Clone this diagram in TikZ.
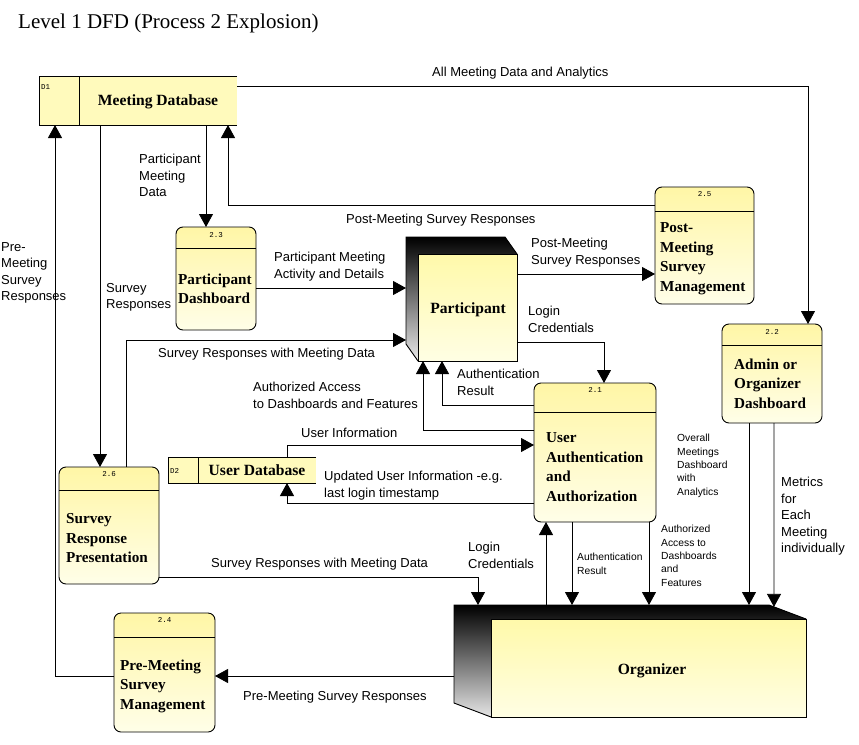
\documentclass[tikz,border=0pt]{standalone}
\usepackage{fontspec}
\setmainfont{Liberation Serif}
\setsansfont{Liberation Sans}
\setmonofont{Liberation Mono}
\usetikzlibrary{arrows.meta,calc}
\definecolor{ytop}{RGB}{255,246,166}
\definecolor{ybot}{RGB}{255,254,232}
\definecolor{ystore}{RGB}{255,250,188}
\definecolor{etop}{RGB}{255,249,170}
\definecolor{ebot}{RGB}{255,254,228}
\begin{document}
\begin{tikzpicture}[x=1pt,y=-1pt,
  proc/.style={draw, line width=0.9pt, rounded corners=7pt, anchor=north west, top color=ytop, bottom color=ybot, inner sep=0pt, outer sep=0pt},
  ent/.style={draw, line width=0.9pt, anchor=north west, top color=etop, bottom color=ebot, inner sep=0pt, outer sep=0pt},
  storebox/.style={fill=ystore, anchor=north west, inner sep=0pt, outer sep=0pt},
  boxline/.style={line width=0.9pt},
  ptext/.style={anchor=north west, inner sep=0pt, align=left, font=\fontsize{15.2}{19.5}\selectfont\bfseries},
  btext/.style={anchor=base, inner sep=0pt, font=\fontsize{15.6}{19.5}\selectfont\bfseries},
  pnum/.style={inner sep=0pt, font=\fontsize{7.5}{8}\selectfont\ttfamily},
  lab/.style={anchor=north west, inner sep=0pt, align=left, font=\fontsize{13}{16.5}\selectfont\sffamily},
  slab/.style={anchor=north west, inner sep=0pt, align=left, font=\fontsize{10.3}{13.4}\selectfont\sffamily},
  flow/.style={draw, line width=0.8pt, -{Triangle[width=14pt,length=13pt]}},
]
\useasboundingbox (0,0) rectangle (859,744);

% title
\node[anchor=base west, inner sep=0pt, font=\fontsize{21}{24}\selectfont] (title) at (18,28) {Level 1 DFD (Process 2 Explosion)};

% data stores
\node[storebox, minimum width=198pt, minimum height=49pt] (d1) at (39,76) {};
\draw[boxline] (d1.north east) -- (d1.north west) -- (d1.south west) -- (d1.south east);
\draw[boxline] (d1.north west -| 79,0) -- (d1.south west -| 79,0);
\node[pnum, anchor=west] (d1n) at (41,87) {D1};
\node[btext] (d1t) at (158,105.3) {Meeting Database};

\node[storebox, minimum width=148pt, minimum height=26pt] (d2) at (168,457) {};
\draw[boxline] (d2.north east) -- (d2.north west) -- (d2.south west) -- (d2.south east);
\draw[boxline] (d2.north west -| 198,0) -- (d2.south west -| 198,0);
\node[pnum, anchor=west] (d2n) at (170,471) {D2};
\node[btext] (d2t) at (257,475.3) {User Database};

% processes
\node[proc, minimum width=80pt, minimum height=103pt] (p23) at (176,227) {};
\draw[boxline] ([yshift=-21pt]p23.north west) -- ([yshift=-21pt]p23.north east);
\node[pnum] (p23n) at (216,235.5) {2.3};
\node[ptext] (p23t) at (178,273.5) {Participant\\Dashboard};

\node[proc, minimum width=99pt, minimum height=117pt] (p25) at (655,187) {};
\draw[boxline] ([yshift=-24pt]p25.north west) -- ([yshift=-24pt]p25.north east);
\node[pnum] (p25n) at (704.5,194.5) {2.5};
\node[ptext] (p25t) at (660,222.5) {Post-\\Meeting\\Survey\\Management};

\node[proc, minimum width=100pt, minimum height=99pt] (p22) at (722,324) {};
\draw[boxline] ([yshift=-21pt]p22.north west) -- ([yshift=-21pt]p22.north east);
\node[pnum] (p22n) at (772,332) {2.2};
\node[ptext] (p22t) at (734,358.5) {Admin or\\Organizer\\Dashboard};

\node[proc, minimum width=122pt, minimum height=139pt] (p21) at (534,383) {};
\draw[boxline] ([yshift=-29pt]p21.north west) -- ([yshift=-29pt]p21.north east);
\node[pnum] (p21n) at (595,390) {2.1};
\node[ptext] (p21t) at (546,432.5) {User\\Authentication\\and\\Authorization};

\node[proc, minimum width=100pt, minimum height=117pt] (p26) at (59,467) {};
\draw[boxline] ([yshift=-23pt]p26.north west) -- ([yshift=-23pt]p26.north east);
\node[pnum] (p26n) at (109,474) {2.6};
\node[ptext] (p26t) at (66,513.5) {Survey\\Response\\Presentation};

\node[proc, minimum width=101pt, minimum height=119pt] (p24) at (114,613) {};
\draw[boxline] ([yshift=-24pt]p24.north west) -- ([yshift=-24pt]p24.north east);
\node[pnum] (p24n) at (164.5,620) {2.4};
\node[ptext] (p24t) at (120,659.5) {Pre-Meeting\\Survey\\Management};

% external entity: Participant
\coordinate (partTL) at (406,237);
\coordinate (partTR) at (505,237);
\coordinate (partBL) at (406,344);
\fill[top color=black, bottom color=black!8] (partTL) -- (partTR) -- (517,254) -- (517,361) -- (418,361) -- (partBL) -- cycle;
\draw[boxline] (partTL) -- (partTR) -- (517,254) -- (517,361) -- (418,361) -- (partBL) -- cycle;
\node[ent, minimum width=99pt, minimum height=107pt] (part) at (418,254) {};
\node[btext] (partt) at (468,313.3) {Participant};

% external entity: Organizer
\coordinate (orgTL) at (454,605);
\coordinate (orgTR) at (769,605);
\coordinate (orgBL) at (454,703);
\fill[top color=black, bottom color=black!10] (orgTL) -- (orgTR) -- (806,619) -- (806,717) -- (491,717) -- (orgBL) -- cycle;
\draw[boxline] (orgTL) -- (orgTR) -- (806,619) -- (806,717) -- (491,717) -- (orgBL) -- cycle;
\node[ent, minimum width=315pt, minimum height=98pt] (org) at (491,619) {};
\node[btext] (orgt) at (652,674.3) {Organizer};

% flows
\draw[flow] (d1.north east |- 0,86) -| (p22.north -| 808,0);
\node[lab] (l1) at (432,67) {All Meeting Data and Analytics};

\draw[flow] (p25.west |- 0,205) -| (d1.south -| 228,0);
\node[lab] (l2) at (346,214) {Post-Meeting Survey Responses};

\draw[flow] (d1.south -| 206,0) -- (p23.north -| 206,0);
\node[lab] (l3) at (139,154) {Participant\\Meeting\\Data};

\draw[flow] (d1.south -| 100,0) -- (p26.north -| 100,0);
\node[lab] (l4) at (106,283) {Survey\\Responses};

\draw[flow] (p24.west |- 0,676) -| (d1.south -| 55,0);
\node[lab] (l5) at (1,242) {Pre-\\Meeting\\Survey\\Responses};

\draw[flow] (p23.east |- 0,288) -- (partTL |- 0,288);
\node[lab] (l6) at (274,252) {Participant Meeting\\Activity and Details};

\draw[flow] (p26.north -| 126,0) |- (partTL |- 0,340);
\node[lab] (l7) at (158,348) {Survey Responses with Meeting Data};

\draw[flow] (part.east |- 0,274) -- (p25.west |- 0,274);
\node[lab] (l8) at (531,238) {Post-Meeting\\Survey Responses};

\draw[flow] (part.east |- 0,342) -| (p21.north -| 604,0);
\node[lab] (l9) at (528,306) {Login\\Credentials};

\draw[flow] (p21.west |- 0,405) -| (part.south -| 442,0);
\node[lab] (l10) at (457,369) {Authentication\\Result};

\draw[flow] (p21.west |- 0,430) -| (part.south -| 423,0);
\node[lab] (l11) at (253,382) {Authorized Access\\to Dashboards and Features};

\draw[flow] (d2.north -| 287,0) |- (p21.west |- 0,445);
\node[lab] (l12) at (301,428) {User Information};

\draw[flow] (p21.west |- 0,503) -| (d2.south -| 287,0);
\node[lab] (l13) at (324,471) {Updated User Information -e.g.\\last login timestamp};

\draw[flow] (p26.east |- 0,577) -| (orgTL -| 478,0);
\node[lab] (l14) at (211,558) {Survey Responses with Meeting Data};

\draw[flow] (orgTL -| 546,0) -- (p21.south -| 546,0);
\node[lab] (l15) at (468,542) {Login\\Credentials};

\draw[flow] (p21.south -| 572,0) -- (orgTL -| 572,0);
\node[slab] (l16) at (577,553) {Authentication\\Result};

\draw[flow] (p21.south -| 649,0) -- (orgTL -| 649,0);
\node[slab] (l17) at (661,525) {Authorized\\Access to\\Dashboards\\and\\Features};

\draw[flow] (p22.south -| 749,0) -- (orgTL -| 749,0);
\node[slab] (l18) at (677,434) {Overall\\Meetings\\Dashboard\\with\\Analytics};

\draw[flow] (p22.south -| 774,0) -- ($(orgTR)!0.135!(806,619)$);
\node[lab] (l19) at (781,477) {Metrics\\for\\Each\\Meeting\\individually};

\draw[flow] (orgTL |- 0,676) -- (p24.east |- 0,676);
\node[lab] (l20) at (243,691) {Pre-Meeting Survey Responses};

\end{tikzpicture}
\end{document}
